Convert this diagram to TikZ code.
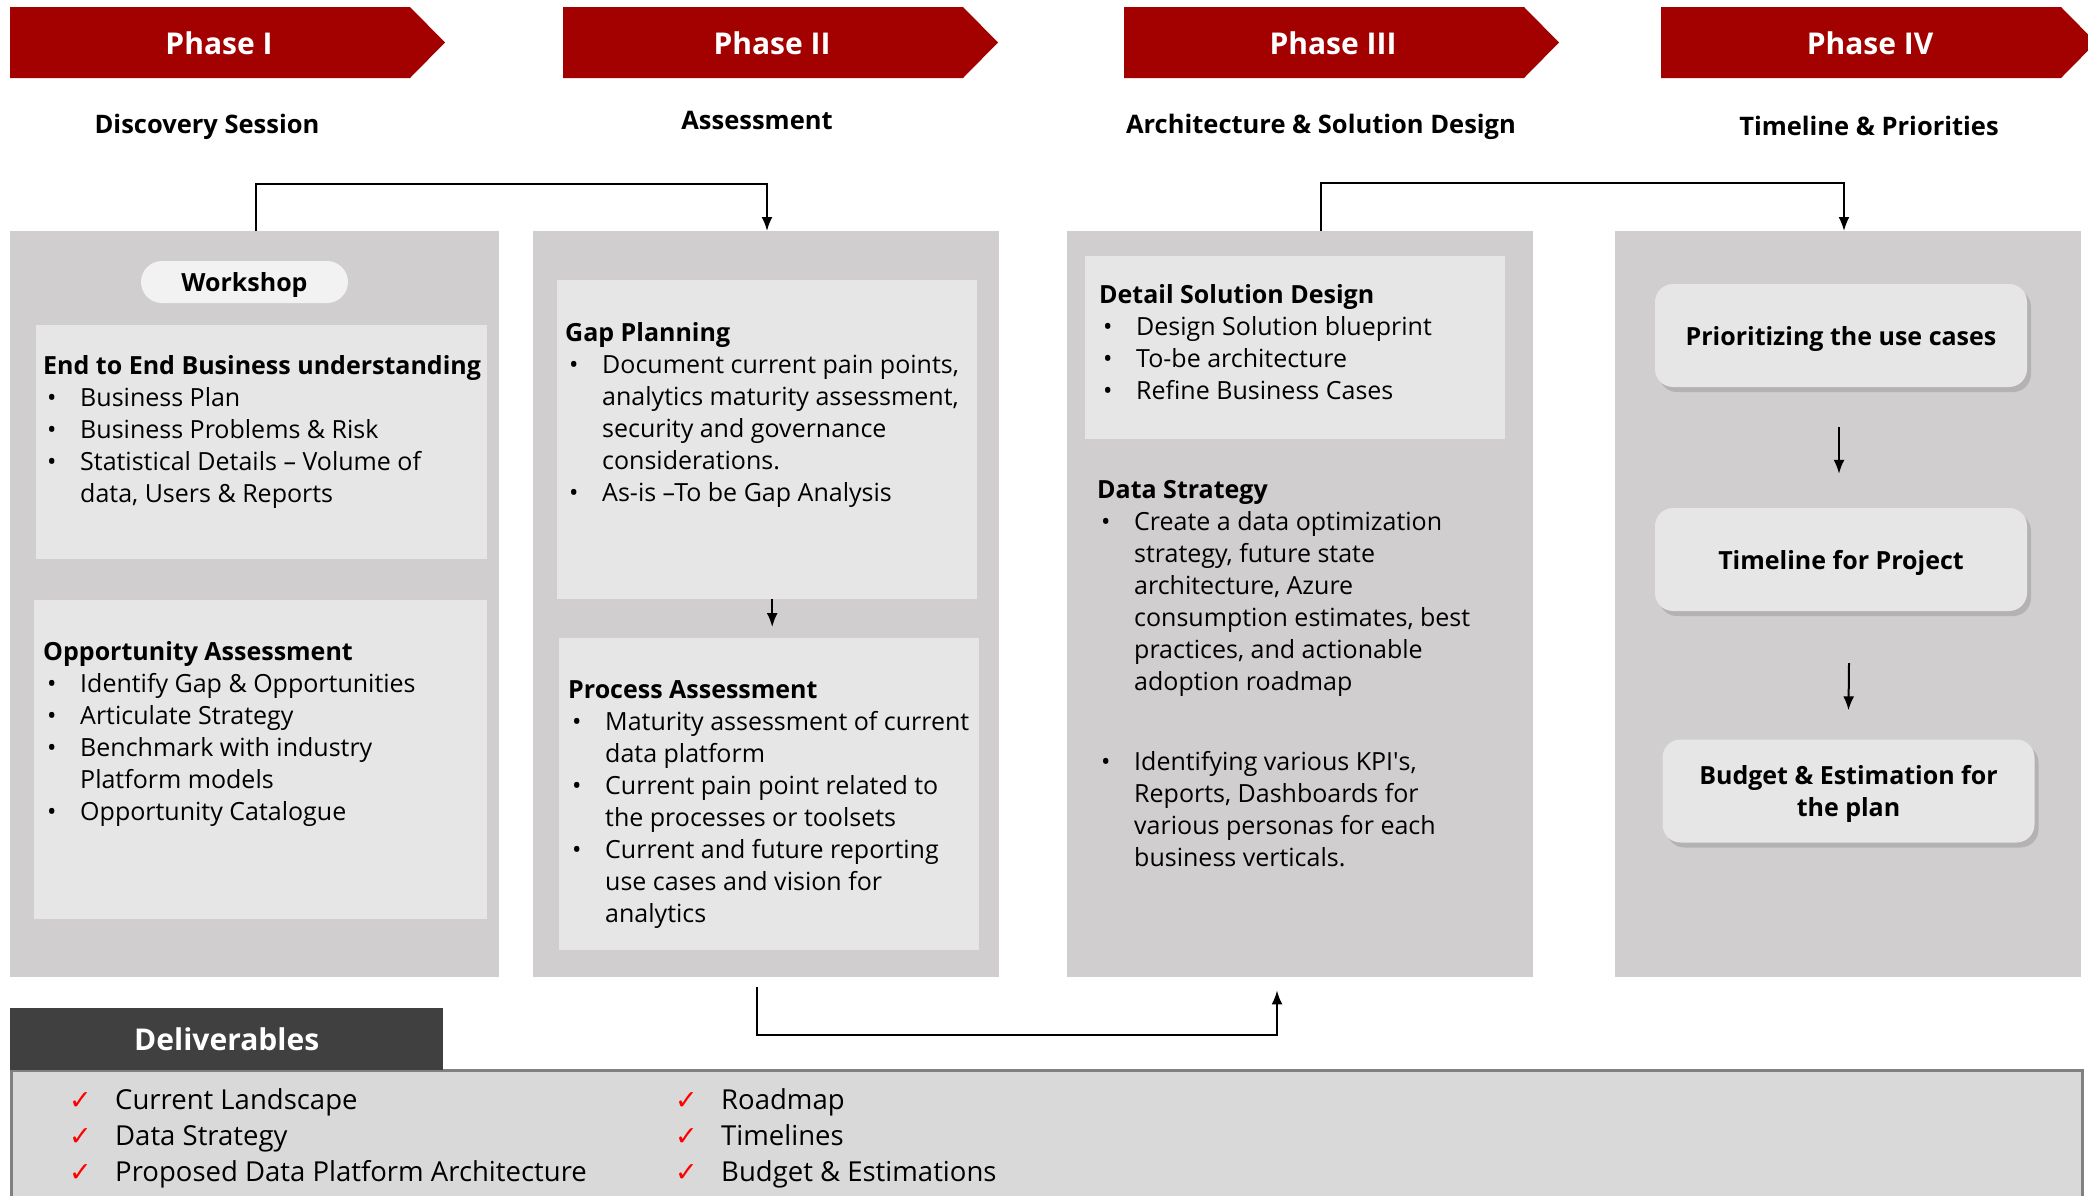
\documentclass[tikz,border=0pt]{standalone}
\usepackage{fontspec}
\setmainfont{Open Sans}
\newfontfamily\symf{DejaVu Sans}
\usetikzlibrary{arrows.meta,shadows,calc}
\definecolor{phred}{RGB}{163,0,0}
\definecolor{pangray}{RGB}{208,206,206}
\definecolor{boxgray}{RGB}{230,230,230}
\definecolor{pillgray}{RGB}{242,242,242}
\definecolor{delgray}{RGB}{64,64,64}
\definecolor{botgray}{RGB}{217,217,217}
\definecolor{bordgray}{RGB}{128,128,128}
\newcommand\bu{\hspace*{4pt}\makebox[33pt][l]{•}}
\newcommand\ct{\hspace*{37pt}}
\newcommand\ttl[1]{{\bfseries\fontsize{25}{32}\selectfont #1}}
\newcommand\ck{\makebox[46pt][l]{\textcolor{red}{\symf\fontsize{27}{27}\selectfont ✓}}}
\begin{document}
\begin{tikzpicture}[x=1pt,y=-1pt,
  phtxt/.style={anchor=base, text=white, font=\bfseries\fontsize{30}{36}\selectfont},
  subt/.style={anchor=base, font=\bfseries\fontsize{25.5}{30}\selectfont},
  panel/.style={fill=pangray, anchor=north west, inner sep=0, minimum height=746},
  ibox/.style={fill=boxgray, anchor=north west, inner sep=0},
  pill/.style={fill=pillgray, rounded corners=21pt, minimum width=207, minimum height=42, inner sep=0, text depth=0pt, font=\bfseries\fontsize{25}{30}\selectfont},
  rbox/.style={fill=boxgray, rounded corners=18pt, minimum width=372, minimum height=103, inner sep=0, text depth=0pt, align=center, font=\bfseries\fontsize{25}{32}\selectfont, drop shadow={shadow xshift=4pt, shadow yshift=-5pt, opacity=0.35}},
  blk/.style={anchor=north west, inner sep=0, align=left, yshift=22.4pt, font=\fontsize{25}{32}\selectfont},
  dlist/.style={anchor=north west, inner sep=0, align=left, yshift=25.2pt, font=\fontsize{27.5}{36}\selectfont},
  arr/.style={-{Latex[length=14pt,width=11pt]}, line width=2pt, black}]
\clip (0,0) rectangle (2088,1195);
\fill[white] (0,0) rectangle (2088,1195);
% phase arrows
\foreach \xo/\nm/\tx in {10/ph1/Phase I, 563/ph2/Phase II, 1124/ph3/Phase III, 1661/ph4/Phase IV} {
  \fill[phred] (\xo,7) -- ++(400,0) -- ++(35,35.5) -- ++(-35,35.5) -- ++(-400,0) -- cycle;
  \node[phtxt] (\nm) at (\xo+209,54) {\tx};
}
\node[subt] (s1) at (207,133) {Discovery Session};
\node[subt] (s2) at (757,129) {Assessment};
\node[subt] (s3) at (1321,133) {Architecture \& Solution Design};
\node[subt] (s4) at (1869,135) {Timeline \& Priorities};
% panels
\node[panel, minimum width=489] (pan1) at (10,231) {};
\node[panel, minimum width=466] (pan2) at (533,231) {};
\node[panel, minimum width=466] (pan3) at (1067,231) {};
\node[panel, minimum width=466] (pan4) at (1615,231) {};
% phase I
\node[pill] (ws) at (244.5,282) {Workshop};
\node[ibox, minimum width=451, minimum height=234] (eb) at (36,325) {};
\node[ibox, minimum width=453, minimum height=319] (ob) at (34,600) {};
\node[blk] (ebt) at (43,374) {\strut\ttl{End to End Business understanding}\\
  \bu Business Plan\\
  \bu Business Problems \& Risk\\
  \bu Statistical Details – Volume of\\
  \ct data, Users \& Reports};
\node[blk] (obt) at (43,660) {\strut\ttl{Opportunity Assessment}\\
  \bu Identify Gap \& Opportunities\\
  \bu Articulate Strategy\\
  \bu Benchmark with industry\\
  \ct Platform models\\
  \bu Opportunity Catalogue};
% phase II
\node[ibox, minimum width=420, minimum height=319] (gp) at (557,280) {};
\node[ibox, minimum width=420, minimum height=312] (pa) at (559,638) {};
\node[blk] (gpt) at (565,341) {\strut\ttl{Gap Planning}\\
  \bu Document current pain points,\\
  \ct analytics maturity assessment,\\
  \ct security and governance\\
  \ct considerations.\\
  \bu As-is –To be Gap Analysis};
\node[blk] (pat) at (568,698) {\strut\ttl{Process Assessment}\\
  \bu Maturity assessment of current\\
  \ct data platform\\
  \bu Current pain point related to\\
  \ct the processes or toolsets\\
  \bu Current and future reporting\\
  \ct use cases and vision for\\
  \ct analytics};
% phase III
\node[ibox, minimum width=420, minimum height=183] (ds) at (1085,256) {};
\node[blk] (dst) at (1099,303) {\strut\ttl{Detail Solution Design}\\
  \bu Design Solution blueprint\\
  \bu To-be architecture\\
  \bu Refine Business Cases};
\node[blk] (dat) at (1097,498) {\strut\ttl{Data Strategy}\\
  \bu Create a data optimization\\
  \ct strategy, future state\\
  \ct architecture, Azure\\
  \ct consumption estimates, best\\
  \ct practices, and actionable\\
  \ct adoption roadmap\\[48pt]
  \bu Identifying various KPI\textquotesingle s,\\
  \ct Reports, Dashboards for\\
  \ct various personas for each\\
  \ct business verticals.};
% phase IV
\node[rbox] (pr) at (1841,335.5) {Prioritizing the use cases};
\node[rbox] (tl) at (1841,559.5) {Timeline for Project};
\node[rbox] (bg) at (1848.5,791) {Budget \& Estimation for\\the plan};
% deliverables
\node[draw=bordgray, line width=3pt, fill=botgray, anchor=north west, minimum width=2071, minimum height=200, inner sep=0] (dbox) at (10,1069) {};
\node[fill=delgray, anchor=north west, minimum width=433, minimum height=62, inner sep=0, text=white, font=\bfseries\fontsize{30}{36}\selectfont] (dhead) at (10,1008) {Deliverables};
\node[dlist] (dl1) at (69,1109) {\strut\ck Current Landscape\\
  \ck Data Strategy\\
  \ck Proposed Data Platform Architecture};
\node[dlist] (dl2) at (675,1109) {\strut\ck Roadmap\\
  \ck Timelines\\
  \ck Budget \& Estimations};
% connectors
\draw[arr] ([xshift=246pt]pan1.north west) -- ++(0,-47) -| ([xshift=234pt]pan2.north west);
\draw[arr] ([xshift=254pt]pan3.north west) -- ++(0,-48) -| ([xshift=229pt]pan4.north west);
\draw[arr] ([xshift=5pt]gp.south) -- ([xshift=3pt,yshift=11pt]pa.north);
\draw[arr] ([xshift=-2pt,yshift=-40pt]pr.south) -- ([xshift=-2pt,yshift=34pt]tl.north);
\draw[arr] ([xshift=8pt,yshift=-52pt]tl.south) -- ([yshift=29pt]bg.north);
\draw[arr] ([xshift=224pt,yshift=-10pt]pan2.south west) -- ++(0,48) -| ([xshift=210pt,yshift=-13pt]pan3.south west);
\end{tikzpicture}
\end{document}
